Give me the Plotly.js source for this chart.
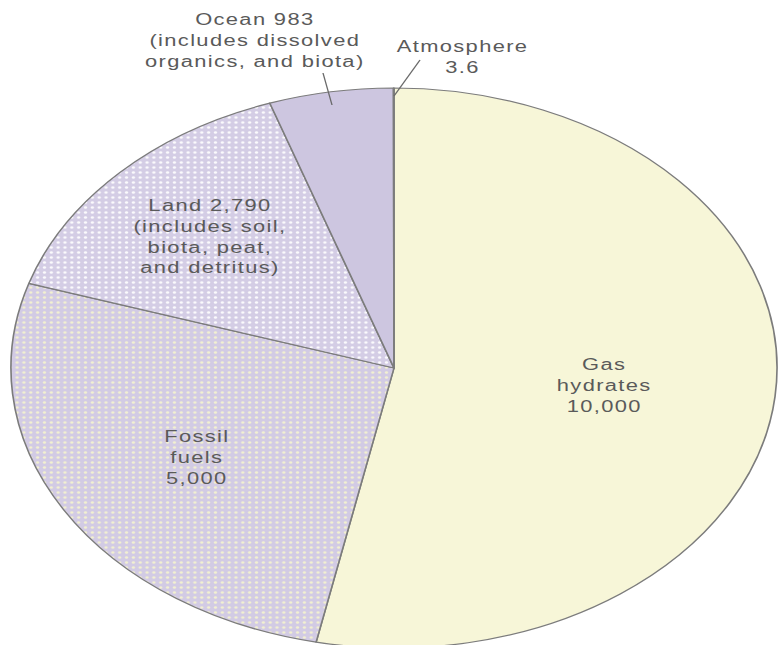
<!DOCTYPE html>
<html>
<head>
<meta charset="utf-8">
<script src="https://cdn.plot.ly/plotly-3.0.1.min.js"></script>
<style>
  html, body { margin: 0; padding: 0; background: #ffffff; overflow: hidden; }
  #wrap { width: 778px; height: 645px; overflow: hidden; }
  /* the figure is drawn narrow and widened, giving the oval pie */
  #chart { width: 570px; height: 650px; transform: scaleX(1.368); transform-origin: 0 0; }
  #chart .annotation-text { letter-spacing: 1px; }
</style>
</head>
<body>
<div id="wrap"><div id="chart"></div></div>
<script>
// Carbon reservoirs (values as printed on the chart)
const labels = ['Gas hydrates', 'Fossil fuels', 'Land', 'Ocean', 'Atmosphere'];
const values = [10000, 5000, 2790, 983, 3.6];
const captions = [
  'Gas<br>hydrates<br>{v}',
  'Fossil<br>fuels<br>{v}',
  'Land {v}<br>(includes soil,<br>biota, peat,<br>and detritus)',
  'Ocean {v}<br>(includes dissolved<br>organics, and biota)',
  'Atmosphere<br>{v}'
];

const W = 570, H = 650, SX = 1.368;
// caption centres and leader lines in screen pixels
const captionPos = [[604, 385], [197, 457], [210, 237], [255, 40], [462, 57]];
const leaders = { 3: [[323, 73], [332, 105]], 4: [[420, 60], [394, 96]] };

const px = x => (x / SX) / W;
const py = y => 1 - y / H;
const fmt = v => v.toLocaleString('en-US');

const fills = ['#f7f6d8', '#d2cbe4', '#d4cde5', '#cdc6e0', '#f3f1f8'];

const trace = {
  type: 'pie',
  labels: labels,
  values: values,
  sort: false,
  direction: 'clockwise',
  rotation: 0,
  textinfo: 'none',
  hoverinfo: 'label+value',
  showlegend: false,
  domain: { x: [8 / W, 568 / W], y: [py(648), py(88)] },
  marker: {
    colors: fills,
    line: { color: '#7c7c7c', width: 1.2 },
    pattern: {
      shape: ['', '.', '.', '', '.'],
      fgcolor: ['#f7f6d8', '#f6f4cf', '#ffffff', '#cdc6e0', '#ffffff'],
      fgopacity: 0.9,
      size: 5,
      solidity: 0.18,
      fillmode: 'overlay'
    }
  }
};

const annotations = captions.map((c, i) => ({
  xref: 'paper', yref: 'paper',
  x: px(captionPos[i][0]), y: py(captionPos[i][1]),
  xanchor: 'center', yanchor: 'middle',
  text: c.replace('{v}', fmt(values[i])),
  showarrow: false,
  align: 'center',
  font: { family: 'Liberation Sans, Arial, sans-serif', size: 16, color: '#5a5a5a' }
}));

const shapes = Object.keys(leaders).map(k => {
  const [[x0, y0], [x1, y1]] = leaders[k];
  return {
    type: 'line', xref: 'paper', yref: 'paper',
    x0: px(x0), y0: py(y0), x1: px(x1), y1: py(y1),
    line: { color: '#6a6a6a', width: 1 }
  };
});

const layout = {
  width: W, height: H,
  margin: { l: 0, r: 0, t: 0, b: 0 },
  paper_bgcolor: '#ffffff',
  annotations: annotations,
  shapes: shapes
};

Plotly.newPlot('chart', [trace], layout, { displayModeBar: false, staticPlot: true });
</script>
</body>
</html>
